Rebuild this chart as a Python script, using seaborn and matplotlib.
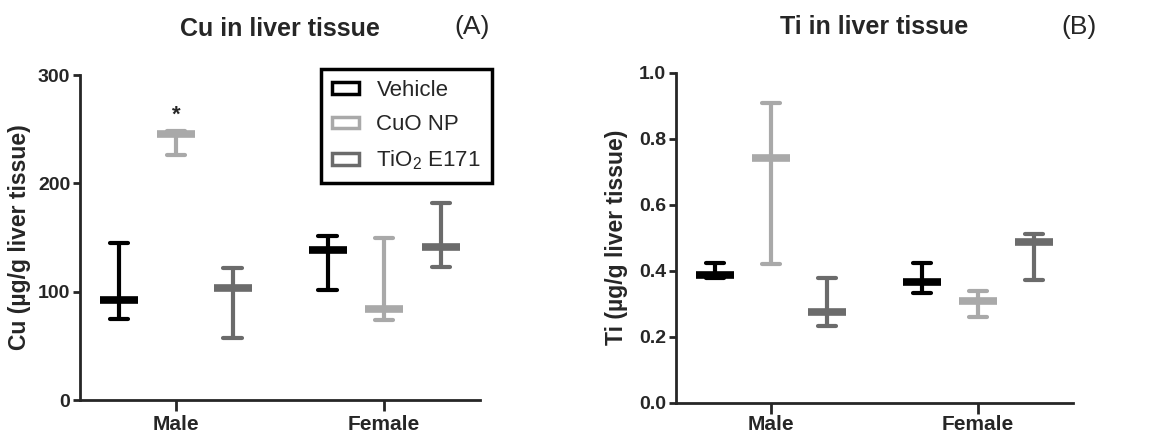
import numpy as np
import pandas as pd
import seaborn as sns
import matplotlib
matplotlib.use("Agg")
import matplotlib.pyplot as plt
from matplotlib.patches import Patch

# ---------------- data ----------------
sexes = ["Male", "Female"]
treatments = ["Vehicle", "CuO NP", "TiO2 E171"]
legend_labels = ["Vehicle", "CuO NP", r"$\mathregular{TiO_2}$ E171"]
colors = ["#000000", "#a9a9a9", "#6b6b6b"]

# Cu (ug/g liver tissue): mean, lower whisker, upper whisker per treatment
cu_mean_male = [92.5, 245.5, 103.5]
cu_low_male = [75.0, 226.5, 57.0]
cu_high_male = [144.5, 248.0, 121.5]
cu_mean_female = [138.7, 84.2, 141.4]
cu_low_female = [101.6, 73.5, 123.0]
cu_high_female = [151.0, 149.4, 181.5]

# Ti (ug/g liver tissue)
ti_mean_male = [0.386, 0.743, 0.275]
ti_low_male = [0.378, 0.420, 0.232]
ti_high_male = [0.422, 0.907, 0.379]
ti_mean_female = [0.366, 0.308, 0.487]
ti_low_female = [0.331, 0.259, 0.372]
ti_high_female = [0.422, 0.339, 0.510]

cu_yticks = [0, 100, 200, 300]
ti_yticks = [0.0, 0.2, 0.4, 0.6, 0.8, 1.0]


def long_df(means, lows, highs):
    rows = []
    for sex, m, lo, hi in zip(sexes, means, lows, highs):
        for t, mv, lv, hv in zip(treatments, m, lo, hi):
            for v in (lv, mv, hv):
                rows.append({"sex": sex, "treatment": t, "value": v})
    return pd.DataFrame(rows)


cu_df = long_df([cu_mean_male, cu_mean_female], [cu_low_male, cu_low_female],
                [cu_high_male, cu_high_female])
ti_df = long_df([ti_mean_male, ti_mean_female], [ti_low_male, ti_low_female],
                [ti_high_male, ti_high_female])

# ---------------- style ----------------
sns.set_theme(style="ticks")
plt.rcParams["font.family"] = ["Liberation Sans", "DejaVu Sans"]
plt.rcParams["mathtext.fontset"] = "custom"
plt.rcParams["mathtext.rm"] = "Liberation Sans"

W, H = 1172, 436
fig = plt.figure(figsize=(W / 100, H / 100), dpi=100)


def px_axes(left, right, top, bottom):
    return fig.add_axes([left / W, 1 - bottom / H, (right - left) / W, (bottom - top) / H])


axA = px_axes(80, 480, 75, 400)
axB = px_axes(676, 1073, 72.7, 402.7)

dodge = 0.544


def draw(ax, df, xpad):
    sns.pointplot(
        data=df, x="sex", y="value", hue="treatment",
        order=sexes, hue_order=treatments, palette=colors,
        estimator="median", errorbar=lambda v: (v.min(), v.max()),
        dodge=dodge, capsize=0.088, markers="_", linestyles="none",
        markersize=28, markeredgewidth=5.5, linewidth=3,
        err_kws={"linewidth": 3}, ax=ax, legend=False,
    )
    ax.set_xlim(-0.46, 1.46)
    ax.set_xlabel("")
    for s in ["top", "right"]:
        ax.spines[s].set_visible(False)
    for s in ["left", "bottom"]:
        ax.spines[s].set_linewidth(2)
    ax.tick_params(axis="y", width=2, length=5, labelsize=14, pad=2)
    ax.tick_params(axis="x", width=2, length=8, labelsize=15, pad=xpad)
    for lab in ax.get_xticklabels() + ax.get_yticklabels():
        lab.set_fontweight("bold")


draw(axA, cu_df, 3)
axA.set_ylim(0, 300)
axA.set_yticks(cu_yticks)
axA.set_yticklabels([str(v) for v in cu_yticks], fontweight="bold")
axA.set_ylabel("Cu (µg/g liver tissue)", fontsize=16.5, fontweight="bold", labelpad=5)
axA.set_title("Cu in liver tissue", fontsize=18, fontweight="bold", pad=28)

draw(axB, ti_df, 1)
axB.set_ylim(0, 1.0)
axB.set_yticks(ti_yticks)
axB.set_yticklabels([f"{v:.1f}" for v in ti_yticks], fontweight="bold")
axB.set_ylabel("Ti (µg/g liver tissue)", fontsize=16.5, fontweight="bold", labelpad=8)
axB.set_title("Ti in liver tissue", fontsize=18, fontweight="bold", pad=28)

# significance star above Male CuO NP (middle hue sits on the category centre)
axA.text(0, cu_high_male[1] + 5, "*", ha="center", va="bottom",
         fontsize=16, fontweight="bold")

fig.text(472 / W, 1 - 27 / H, "(A)", ha="center", va="center", fontsize=19)
fig.text(1079 / W, 1 - 27 / H, "(B)", ha="center", va="center", fontsize=19)

handles = [Patch(facecolor="white", edgecolor=c, linewidth=2.5) for c in colors]
leg = axA.legend(handles, legend_labels, loc="upper right",
                 bbox_to_anchor=(492 / W, 1 - 69 / H), bbox_transform=fig.transFigure,
                 fontsize=16, frameon=True, fancybox=False, framealpha=1,
                 edgecolor="black", handlelength=1.2, handleheight=0.45,
                 handletextpad=0.8, labelspacing=0.6, borderpad=0.5,
                 borderaxespad=0)
leg.get_frame().set_linewidth(2.5)

fig.savefig("out.png", dpi=100)
